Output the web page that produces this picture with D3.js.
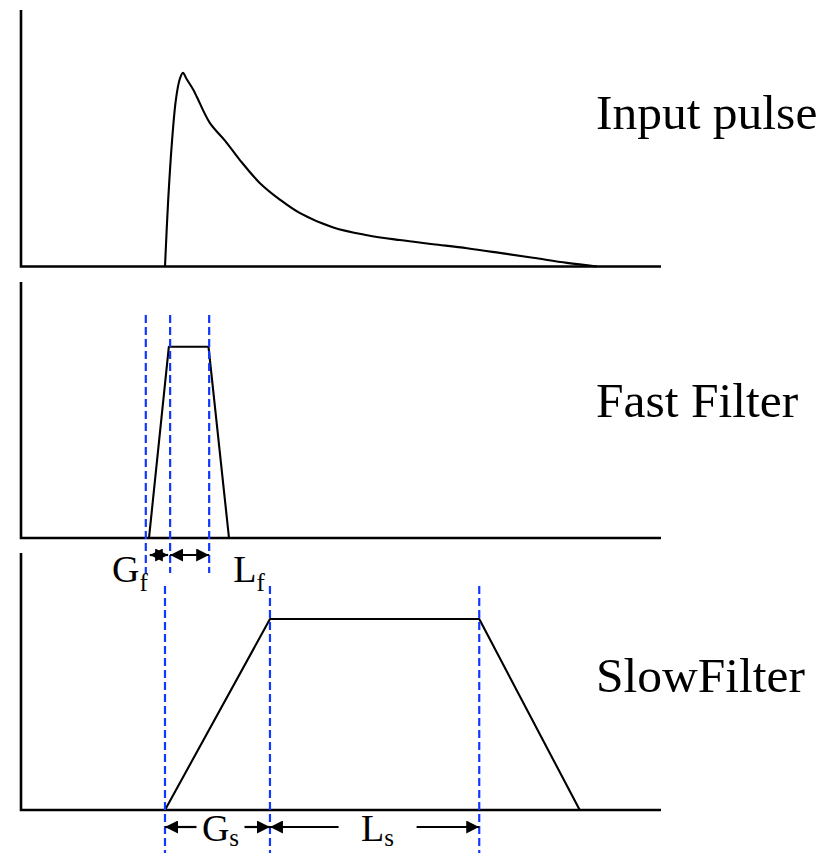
<!DOCTYPE html>
<html>
<head>
<meta charset="utf-8">
<script src="https://cdn.jsdelivr.net/npm/d3@7"></script>
<style>
  body { margin: 0; background: #fff; }
  text { font-family: "Liberation Serif", "DejaVu Serif", serif; fill: #000; }
</style>
</head>
<body>
<div id="chart"></div>
<script>

var width = 837;
var height = 853;

// input pulse: time (a.u.) and amplitude
var pulseT = [22.5, 23.0, 23.6, 24.2, 24.8, 25.3, 25.9, 26.9, 27.5, 29.5, 31.9, 34.2, 37.3, 40.5, 43.6, 48.8, 54.1, 59.2, 64.4, 69.7, 74.8, 80.0, 85.3, 90.0];
var pulseA = [0, 0.26, 0.49, 0.65, 0.73, 0.755, 0.73, 0.69, 0.66, 0.56, 0.49, 0.415, 0.326, 0.26, 0.208, 0.152, 0.122, 0.103, 0.087, 0.071, 0.053, 0.034, 0.014, 0];

// trapezoid filters
var fastT = [20.0, 23.1, 29.3, 32.5];
var fastA = [0, 0.747, 0.747, 0];
var slowT = [22.5, 38.9, 71.6, 87.3];
var slowA = [0, 0.743, 0.743, 0];

// gap / length markers
var fastMarks = [19.5, 23.3, 29.4];
var slowMarks = [22.5, 38.9, 71.6];

var panelNames = ["Input pulse", "Fast Filter", "SlowFilter"];

var svg = d3.select("#chart")
            .append("svg")
            .attr("width", width)
            .attr("height", height);

var defs = svg.append("defs");
defs.append("marker")
    .attr("id", "head")
    .attr("viewBox", "0 0 10 10")
    .attr("refX", 10)
    .attr("refY", 5)
    .attr("markerUnits", "userSpaceOnUse")
    .attr("markerWidth", 13)
    .attr("markerHeight", 13)
    .attr("orient", "auto-start-reverse")
  .append("path")
    .attr("d", "M0,0L10,5L0,10z")
    .attr("fill", "#000");

var x = d3.scaleLinear().domain([0, 100]).range([21, 661]);

// panel layout
var panels = [
  {top: 10, bottom: 266.5, labelY: 129},
  {top: 282, bottom: 538, labelY: 417},
  {top: 553, bottom: 810, labelY: 692}
];
panels.forEach(function(p){
  p.y = d3.scaleLinear().domain([0, 1]).range([p.bottom, p.top]);
});

// axes frames
panels.forEach(function(p, i){
  var g = svg.append("g");
  g.append("path")
   .attr("d", "M" + x(0) + "," + p.top + "V" + p.bottom + "H" + x(100))
   .attr("fill", "none")
   .attr("stroke", "#000")
   .attr("stroke-width", 2.6);
  g.append("text")
   .attr("x", 596)
   .attr("y", p.labelY)
   .attr("font-size", 49.5)
   .text(panelNames[i]);
});

function drawLine(p, ts, as, curve){
  var line = d3.line()
     .x(function(d){ return x(d[0]); })
     .y(function(d){ return p.y(d[1]); })
     .curve(curve);
  svg.append("path")
     .datum(d3.zip(ts, as))
     .attr("d", line)
     .attr("fill", "none")
     .attr("stroke", "#000")
     .attr("stroke-width", 2.1)
     .attr("stroke-linejoin", "round");
}

drawLine(panels[0], pulseT, pulseA, d3.curveCatmullRom.alpha(0.5));
drawLine(panels[1], fastT, fastA, d3.curveLinear);
drawLine(panels[2], slowT, slowA, d3.curveLinear);

// dashed marker lines
function dashes(p, marks, extra){
  svg.append("g").selectAll("line")
     .data(marks)
     .enter()
     .append("line")
     .attr("x1", function(d){ return x(d); })
     .attr("x2", function(d){ return x(d); })
     .attr("y1", p.top + 33)
     .attr("y2", p.bottom + extra)
     .attr("stroke", "#1238ff")
     .attr("stroke-width", 2.2)
     .attr("stroke-dasharray", "8,4");
}
dashes(panels[1], fastMarks, 35);
dashes(panels[2], slowMarks, 45);

function arrow(x1, x2, y, start, end){
  var l = svg.append("line")
     .attr("x1", x1).attr("x2", x2)
     .attr("y1", y).attr("y2", y)
     .attr("stroke", "#000")
     .attr("stroke-width", 2.2);
  if (start) l.attr("marker-start", "url(#head)");
  if (end) l.attr("marker-end", "url(#head)");
}

function label(xp, yp, main, sub, anchor, dy){
  var t = svg.append("text")
     .attr("x", xp)
     .attr("y", yp)
     .attr("font-size", 38)
     .attr("text-anchor", anchor);
  t.append("tspan").text(main);
  t.append("tspan").attr("font-size", 25).attr("dy", dy).text(sub);
}

// fast filter annotations
var fy = panels[1].bottom + 17;
arrow(x(fastMarks[0]) + 4, x(fastMarks[1]) - 2, fy, true, true);
arrow(x(fastMarks[1]), x(fastMarks[2]), fy, true, true);
label(x(fastMarks[0]) + 2, panels[1].bottom + 44, "G", "f", "end", 9);
label(x(fastMarks[2]) + 24, panels[1].bottom + 44, "L", "f", "start", 9);

// slow filter annotations
var sy = panels[2].bottom + 17;
var gaps = [24, 39];
["G", "L"].forEach(function(n, i){
  var a = x(slowMarks[i]), b = x(slowMarks[i + 1]);
  var c = (a + b) / 2 + 3;
  arrow(a, c - gaps[i], sy, true, false);
  arrow(c + gaps[i], b, sy, false, true);
  label(c, panels[2].bottom + 31, n, "s", "middle", 5);
});

</script>
</body>
</html>
